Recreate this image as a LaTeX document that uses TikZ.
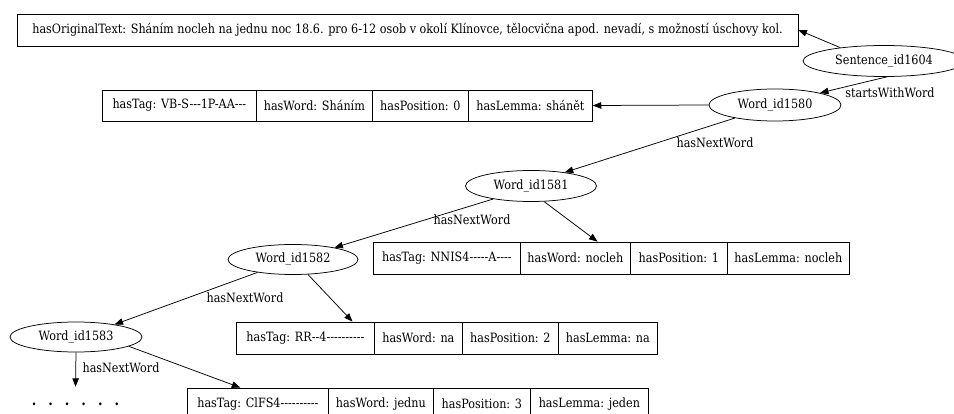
\documentclass[tikz,border=0pt]{standalone}
\usepackage{fontspec}
\setmainfont[Ligatures=TeXOff,FakeStretch=0.875]{DejaVu Serif}
\usetikzlibrary{shapes.geometric,arrows.meta,calc}
\tikzset{
  base/.style={font=\fontsize{12.8}{15}\selectfont, inner sep=0pt},
  wordnode/.style={base, draw, ellipse, line width=0.75pt},
  cell/.style={base, draw, rectangle, anchor=west, line width=0.75pt},
  textbox/.style={base, draw, rectangle, line width=0.75pt},
  edgelabel/.style={base},
  link/.style={line width=0.75pt, -{Triangle[length=8.5pt,width=6.5pt]}},
}
\begin{document}
\begin{tikzpicture}[x=1pt,y=-1pt]
\useasboundingbox (0,0) rectangle (954,414);

% sentence and its original text
\node[textbox, minimum width=781, minimum height=32] (orig) at (407.5,30)
  {hasOriginalText: Sháním nocleh na jednu noc 18.6. pro 6-12 osob v okolí Klínovce, tělocvična apod. nevadí, s možností úschovy kol.};
\node[wordnode, minimum width=162, minimum height=31] (sent) at (884,61) {Sentence\_id1604};

% word nodes
\node[wordnode, minimum width=132, minimum height=32] (w0) at (775,105) {Word\_id1580};
\node[wordnode, minimum width=131, minimum height=31] (w1) at (531,186) {Word\_id1581};
\node[wordnode, minimum width=130, minimum height=30] (w2) at (293,259.5) {Word\_id1582};
\node[wordnode, minimum width=132, minimum height=30] (w3) at (76,337) {Word\_id1583};

% attribute records
\begin{scope}[every node/.append style={minimum height=31}]
\node[cell, minimum width=154] (a0) at (102,105.5) {hasTag: VB-S---1P-AA---};
\node[cell, minimum width=116] (b0) at (256,105.5) {hasWord: Sháním};
\node[cell, minimum width=96]  (c0) at (372,105.5) {hasPosition: 0};
\node[cell, minimum width=124] (d0) at (468,105.5) {hasLemma: shánět};
\end{scope}
\begin{scope}[every node/.append style={minimum height=32}]
\node[cell, minimum width=147] (a1) at (373,258) {hasTag: NNIS4-----A----};
\node[cell, minimum width=110] (b1) at (520,258) {hasWord: nocleh};
\node[cell, minimum width=97]  (c1) at (630,258) {hasPosition: 1};
\node[cell, minimum width=122] (d1) at (727,258) {hasLemma: nocleh};
\node[cell, minimum width=138] (a2) at (236,338) {hasTag: RR--4----------};
\node[cell, minimum width=88]  (b2) at (374,338) {hasWord: na};
\node[cell, minimum width=96]  (c2) at (462,338) {hasPosition: 2};
\node[cell, minimum width=99]  (d2) at (558,338) {hasLemma: na};
\node[cell, minimum width=141] (a3) at (187,404) {hasTag: ClFS4----------};
\node[cell, minimum width=105] (b3) at (328,404) {hasWord: jednu};
\node[cell, minimum width=97]  (c3) at (433,404) {hasPosition: 3};
\node[cell, minimum width=118] (d3) at (530,404) {hasLemma: jeden};
\end{scope}

% continuation marker
\node[base, font=\fontsize{15}{16}\selectfont\bfseries, minimum height=34] (more) at (75.5,404)
  {\spaceskip=12pt .\ .\ .\ .\ .\ .};

% connectors
\draw[link] (sent.163) -- (orig.east);
\draw[link] (sent.-80) -- (w0.15);
\draw[link] (w0.west) -- (d0.east);
\draw[link] (w0.198) -- (w1.22);
\draw[link] (w1.-50) -- ($(b1.north west)!0.7!(b1.north east)$);
\draw[link] (w1.199) -- (w2.16);
\draw[link] (w2.-45) -- ($(a2.north west)!0.84!(a2.north east)$);
\draw[link] (w2.200) -- (w3.18);
\draw[link] (w3.-10) -- ($(a3.north west)!0.376!(a3.north east)$);
\draw[link] (w3.south) -- (more.north);

% edge labels
\node[edgelabel] (l0) at (890,93) {startsWithWord};
\node[edgelabel] (l1) at (715,143) {hasNextWord};
\node[edgelabel] (l2) at (472,220) {hasNextWord};
\node[edgelabel] (l3) at (245,298) {hasNextWord};
\node[edgelabel] (l4) at (121,368) {hasNextWord};
\end{tikzpicture}
\end{document}
